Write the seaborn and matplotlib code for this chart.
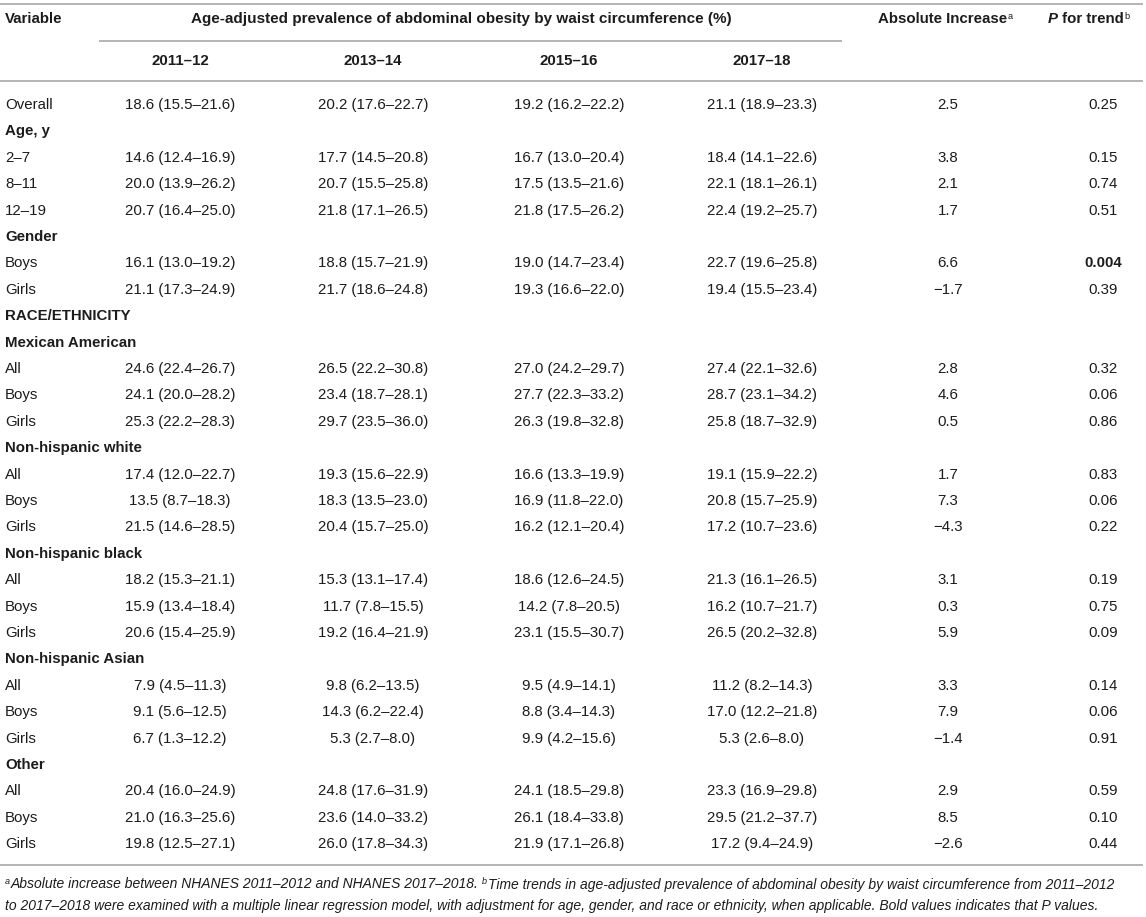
import seaborn as sns
import matplotlib
matplotlib.use("Agg")
import matplotlib.pyplot as plt

# table rows (section headings are listed in `sections`)
variables = ["Overall", "Age, y", "2–7", "8–11", "12–19", "Gender", "Boys", "Girls",
             "RACE/ETHNICITY", "Mexican American", "All", "Boys", "Girls",
             "Non-hispanic white", "All", "Boys", "Girls",
             "Non-hispanic black", "All", "Boys", "Girls",
             "Non-hispanic Asian", "All", "Boys", "Girls",
             "Other", "All", "Boys", "Girls"]
sections = ["Age, y", "Gender", "RACE/ETHNICITY", "Mexican American", "Non-hispanic white",
            "Non-hispanic black", "Non-hispanic Asian", "Other"]
years = ["2011–12", "2013–14", "2015–16", "2017–18"]

# prevalence (estimate, low, high) for the data rows, in order
prev_2011_12 = [(18.6, 15.5, 21.6), (14.6, 12.4, 16.9), (20.0, 13.9, 26.2), (20.7, 16.4, 25.0),
                (16.1, 13.0, 19.2), (21.1, 17.3, 24.9),
                (24.6, 22.4, 26.7), (24.1, 20.0, 28.2), (25.3, 22.2, 28.3),
                (17.4, 12.0, 22.7), (13.5, 8.7, 18.3), (21.5, 14.6, 28.5),
                (18.2, 15.3, 21.1), (15.9, 13.4, 18.4), (20.6, 15.4, 25.9),
                (7.9, 4.5, 11.3), (9.1, 5.6, 12.5), (6.7, 1.3, 12.2),
                (20.4, 16.0, 24.9), (21.0, 16.3, 25.6), (19.8, 12.5, 27.1)]
prev_2013_14 = [(20.2, 17.6, 22.7), (17.7, 14.5, 20.8), (20.7, 15.5, 25.8), (21.8, 17.1, 26.5),
                (18.8, 15.7, 21.9), (21.7, 18.6, 24.8),
                (26.5, 22.2, 30.8), (23.4, 18.7, 28.1), (29.7, 23.5, 36.0),
                (19.3, 15.6, 22.9), (18.3, 13.5, 23.0), (20.4, 15.7, 25.0),
                (15.3, 13.1, 17.4), (11.7, 7.8, 15.5), (19.2, 16.4, 21.9),
                (9.8, 6.2, 13.5), (14.3, 6.2, 22.4), (5.3, 2.7, 8.0),
                (24.8, 17.6, 31.9), (23.6, 14.0, 33.2), (26.0, 17.8, 34.3)]
prev_2015_16 = [(19.2, 16.2, 22.2), (16.7, 13.0, 20.4), (17.5, 13.5, 21.6), (21.8, 17.5, 26.2),
                (19.0, 14.7, 23.4), (19.3, 16.6, 22.0),
                (27.0, 24.2, 29.7), (27.7, 22.3, 33.2), (26.3, 19.8, 32.8),
                (16.6, 13.3, 19.9), (16.9, 11.8, 22.0), (16.2, 12.1, 20.4),
                (18.6, 12.6, 24.5), (14.2, 7.8, 20.5), (23.1, 15.5, 30.7),
                (9.5, 4.9, 14.1), (8.8, 3.4, 14.3), (9.9, 4.2, 15.6),
                (24.1, 18.5, 29.8), (26.1, 18.4, 33.8), (21.9, 17.1, 26.8)]
prev_2017_18 = [(21.1, 18.9, 23.3), (18.4, 14.1, 22.6), (22.1, 18.1, 26.1), (22.4, 19.2, 25.7),
                (22.7, 19.6, 25.8), (19.4, 15.5, 23.4),
                (27.4, 22.1, 32.6), (28.7, 23.1, 34.2), (25.8, 18.7, 32.9),
                (19.1, 15.9, 22.2), (20.8, 15.7, 25.9), (17.2, 10.7, 23.6),
                (21.3, 16.1, 26.5), (16.2, 10.7, 21.7), (26.5, 20.2, 32.8),
                (11.2, 8.2, 14.3), (17.0, 12.2, 21.8), (5.3, 2.6, 8.0),
                (23.3, 16.9, 29.8), (29.5, 21.2, 37.7), (17.2, 9.4, 24.9)]
abs_increase = [2.5, 3.8, 2.1, 1.7, 6.6, -1.7, 2.8, 4.6, 0.5, 1.7, 7.3, -4.3,
                3.1, 0.3, 5.9, 3.3, 7.9, -1.4, 2.9, 8.5, -2.6]
p_trend = ["0.25", "0.15", "0.74", "0.51", "0.004", "0.39", "0.32", "0.06", "0.86",
           "0.83", "0.06", "0.22", "0.19", "0.75", "0.09", "0.14", "0.06", "0.91",
           "0.59", "0.10", "0.44"]
p_bold = ["0.004"]

foot1a = "Absolute increase between NHANES 2011–2012 and NHANES 2017–2018. "
foot1b = "Time trends in age-adjusted prevalence of abdominal obesity by waist circumference from 2011–2012"
foot2 = ("to 2017–2018 were examined with a multiple linear regression model, with adjustment for age, "
         "gender, and race or ethnicity, when applicable. Bold values indicates that P values.")

sns.set_theme(style="white")
plt.rcParams["font.family"] = ["Liberation Sans", "DejaVu Sans"]

TXT = "#1c1c1c"
RULE = "#b4b4b4"
FS = 10.8

fig = plt.figure(figsize=(11.46, 9.17), dpi=100)
ax = fig.add_axes([0, 0, 1, 1])
ax.set_xlim(0, 1146)
ax.set_ylim(917, 0)
ax.set_axis_off()

col_x = [180, 373, 569, 762]
abs_x, p_x = 948, 1103
row0, step = 105, 26.4

# rules
ax.hlines([4, 81, 865], 0, 1143, color=RULE, lw=1.4)
ax.hlines(41, 99, 842, color=RULE, lw=1.4)

# header
ax.text(5, 19, "Variable", ha="left", va="center", fontsize=FS, weight="bold", color=TXT)
ax.text(461, 19, "Age-adjusted prevalence of abdominal obesity by waist circumference (%)",
        ha="center", va="center", fontsize=FS + 0.2, weight="bold", color=TXT)
for x, yr in zip(col_x, years):
    ax.text(x, 61, yr, ha="center", va="center", fontsize=FS, weight="bold", color=TXT)

t = ax.text(878, 19, "Absolute Increase", ha="left", va="center", fontsize=FS, weight="bold", color=TXT)
ax.annotate("a", xy=(1, 1), xycoords=t, xytext=(0.6, 0), textcoords="offset points",
            ha="left", va="top", fontsize=FS * 0.62, color=TXT)
t = ax.text(1048, 19, "P", ha="left", va="center", fontsize=FS, weight="bold", style="italic", color=TXT)
t = ax.annotate(" for trend", xy=(1, 0), xycoords=t, ha="left", va="bottom",
                fontsize=FS, weight="bold", color=TXT)
ax.annotate("b", xy=(1, 1), xycoords=t, xytext=(0.6, 0), textcoords="offset points",
            ha="left", va="top", fontsize=FS * 0.62, color=TXT)

# body
cols = [prev_2011_12, prev_2013_14, prev_2015_16, prev_2017_18]
k = 0
for i, name in enumerate(variables):
    y = row0 + i * step
    if name in sections:
        ax.text(5, y, name, ha="left", va="center", fontsize=FS, weight="bold", color=TXT)
        continue
    ax.text(5, y, name, ha="left", va="center", fontsize=FS, color=TXT)
    for x, col in zip(col_x, cols):
        est, lo, hi = col[k]
        ax.text(x, y, f"{est:.1f} ({lo:.1f}–{hi:.1f})", ha="center", va="center",
                fontsize=FS, color=TXT)
    ai = abs_increase[k]
    ax.text(abs_x, y, f"{ai:.1f}".replace("-", "−"), ha="center", va="center", fontsize=FS, color=TXT)
    pv = p_trend[k]
    ax.text(p_x, y, pv, ha="center", va="center", fontsize=FS, color=TXT,
            weight="bold" if pv in p_bold else "normal")
    k += 1

# footnote, sized so the first line fills the table width
ffam = ["Liberation Sans Narrow", "Liberation Sans", "DejaVu Sans"]
renderer = fig.canvas.get_renderer()
probe = ax.text(0, 0, "a" + foot1a + "b" + foot1b, fontsize=10, family=ffam, style="italic")
w = probe.get_window_extent(renderer).width
probe.remove()
ffs = 10 * 1112 / w

s = ax.text(5, 882, "a", ha="left", va="center", fontsize=ffs * 0.65, family=ffam,
            style="italic", color=TXT)
base = ax.annotate(foot1a, xy=(1, 1), xycoords=s, xytext=(0.3, 0), textcoords="offset points",
                   ha="left", va="top", fontsize=ffs, family=ffam, style="italic", color=TXT)
s2 = ax.annotate("b", xy=(1, 1), xycoords=base, ha="left", va="top", fontsize=ffs * 0.65,
                 family=ffam, style="italic", color=TXT)
ax.annotate(foot1b, xy=(1, 0), xycoords=(s2, base), xytext=(0.3, 0), textcoords="offset points",
            ha="left", va="bottom", fontsize=ffs, family=ffam, style="italic", color=TXT)
ax.text(5, 906, foot2, ha="left", va="center", fontsize=ffs, family=ffam, style="italic", color=TXT)

fig.savefig("out.png", dpi=100)
